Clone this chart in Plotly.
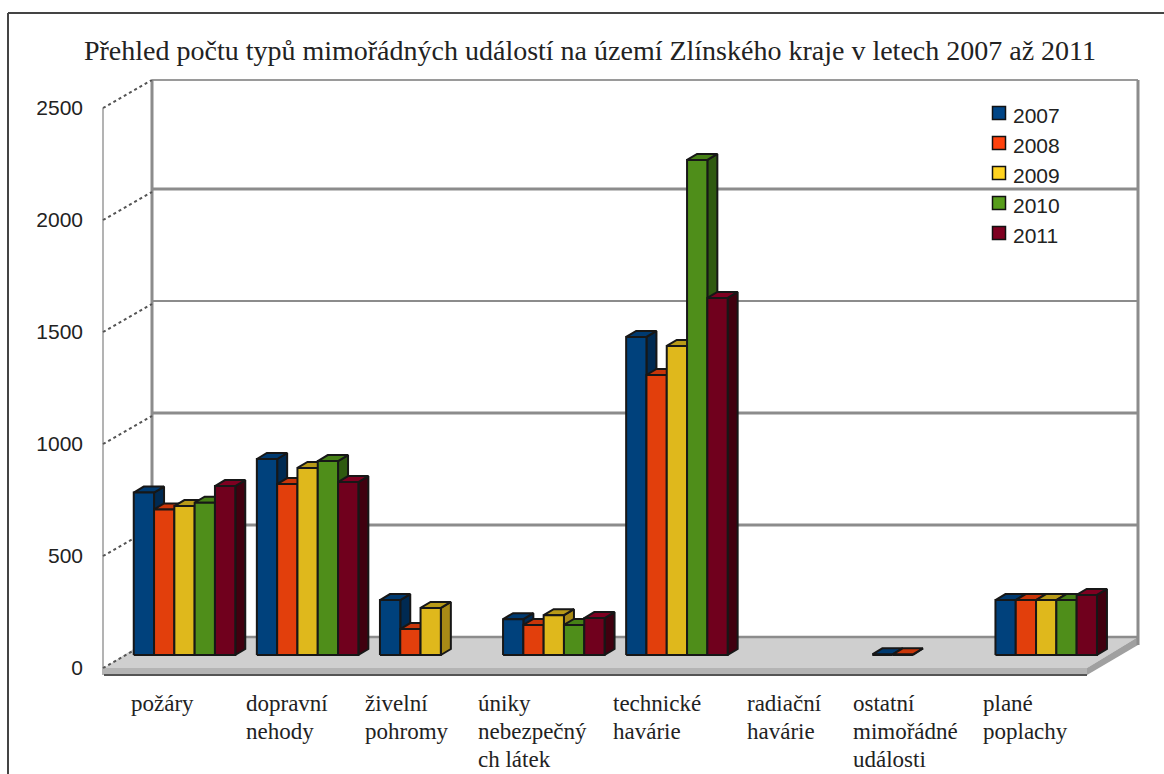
import plotly.graph_objects as go

years = ['2007', '2008', '2009', '2010', '2011']
categories = [
    ['požáry'],
    ['dopravní', 'nehody'],
    ['živelní', 'pohromy'],
    ['úniky', 'nebezpečný', 'ch látek'],
    ['technické', 'havárie'],
    ['radiační', 'havárie'],
    ['ostatní', 'mimořádné', 'události'],
    ['plané', 'poplachy'],
]
v2007 = [725, 875, 245, 160, 1420, None, 3, 245]
v2008 = [650, 763, 116, 134, 1250, None, 3, 245]
v2009 = [665, 835, 210, 178, 1380, None, None, 245]
v2010 = [680, 866, None, 134, 2210, None, None, 245]
v2011 = [754, 772, None, 165, 1594, None, None, 268]
series = [v2007, v2008, v2009, v2010, v2011]
ticks = [0, 500, 1000, 1500, 2000, 2500]

title = 'Přehled počtu typů mimořádných událostí na území Zlínského kraje v letech 2007 až 2011'
label_left = [129, 244, 363, 476, 611, 745, 851, 981]

# barvy: front, bok, vrsek, legenda
front = ['#00417c', '#e23f0c', '#dfb81c', '#4f8e1a', '#70001d']
side = ['#002a52', '#8f2808', '#a88a16', '#2f5a10', '#40000f']
top = ['#003a70', '#c93609', '#b89a18', '#468016', '#7e0021']
legend_col = ['#004586', '#ff420e', '#ffd320', '#579d1c', '#7e0021']

W, H = 1164, 774
PLOT_LEFT = 84
GROUP = 123.1     # px na skupinu
C0 = 184.5        # stred prvni skupiny
Y0 = 655          # px zakladny sloupcu
SCALE = 0.224     # px na jednotku


def to_x(px):
    return (px - C0) / GROUP


def to_y(py):
    return (Y0 - py) / SCALE


bar_w = 20.3 / GROUP
dx = 10 / GROUP
dy = 6 / SCALE

fig = go.Figure()

for k, vals in enumerate(series):
    xf, yf, xs, ys, xt, yt = [], [], [], [], [], []
    for c, v in enumerate(vals):
        if v is None:
            continue
        l = c + (k - 2.5) * bar_w
        r = l + bar_w
        xf += [l, r, r, l, l, None]
        yf += [0, 0, v, v, 0, None]
        xs += [r, r + dx, r + dx, r, r, None]
        ys += [0, dy, v + dy, v, 0, None]
        xt += [l, l + dx, r + dx, r, l, None]
        yt += [v, v + dy, v + dy, v, v, None]
    for xx, yy, col in [(xs, ys, side[k]), (xt, yt, top[k]), (xf, yf, front[k])]:
        fig.add_trace(go.Scatter(x=xx, y=yy, mode='lines', fill='toself', fillcolor=col,
                                 line=dict(color='#171717', width=2),
                                 name=years[k], showlegend=False, hoverinfo='skip'))

# legenda
annotations = []
for k, yr in enumerate(years):
    fig.add_trace(go.Scatter(x=[to_x(999)], y=[to_y(113 + 30 * k)], mode='markers',
                             marker=dict(symbol='square', size=13, color=legend_col[k],
                                         line=dict(color='#111111', width=1.5)),
                             name=yr, showlegend=False, hoverinfo='skip'))
    annotations.append(dict(x=to_x(1011), y=to_y(115 + 30 * k), xref='x', yref='y', text=yr,
                            showarrow=False, xanchor='left', yanchor='middle',
                            font=dict(family='Liberation Sans', size=21, color='#222222')))


def line(x0, y0, x1, y1, color='#8c8c8c', width=2.5, dash='solid'):
    return dict(type='line', xref='x', yref='y', x0=to_x(x0), y0=to_y(y0), x1=to_x(x1), y1=to_y(y1),
                line=dict(color=color, width=width, dash=dash), layer='below')


def poly(points, color):
    path = 'M ' + ' L '.join(f'{to_x(a):.4f},{to_y(b):.2f}' for a, b in points) + ' Z'
    return dict(type='path', xref='x', yref='y', path=path, fillcolor=color, line=dict(width=0), layer='below')


shapes = []
# podlaha
shapes.append(poly([(152, 637), (1138, 637), (1087, 668), (104, 668)], '#cfcfcf'))
shapes.append(poly([(104, 668), (1087, 668), (1087, 675), (104, 675)], '#b4b4b4'))
shapes.append(poly([(1087, 668), (1138, 637), (1138, 645), (1087, 675)], '#a0a0a0'))
shapes.append(line(104, 675, 1087, 675, color='#555555', width=2))
shapes.append(line(152, 637, 1138, 637, color='#8c8c8c', width=2.5))
# steny
shapes.append(line(152, 80, 1138, 80, color='#9a9a9a', width=2))
shapes.append(line(152, 80, 152, 637, width=3))
shapes.append(line(1138, 80, 1138, 645, width=3))
shapes.append(line(103, 108, 103, 675, color='#9a9a9a', width=1.5))
# mrizka od hodnot osy
for t in ticks:
    py = Y0 - t * SCALE
    if 0 < t < 2500:
        shapes.append(line(152, py - 18, 1138, py - 18, width=2 if t == 1500 else 3))
    shapes.append(line(103, py + 13, 152, py - 15, color='#555555', width=2, dash='dot'))

# ramecek
def px_paper(px):
    return (px - PLOT_LEFT) / (W - PLOT_LEFT)


shapes.append(dict(type='line', xref='paper', yref='paper', x0=px_paper(8), x1=px_paper(8), y0=0, y1=1 - 13 / H,
                   line=dict(color='#444444', width=2)))
shapes.append(dict(type='line', xref='paper', yref='paper', x0=px_paper(8), x1=px_paper(W), y0=1 - 13 / H, y1=1 - 13 / H,
                   line=dict(color='#444444', width=2)))

# popisky kategorii
for c, lines in enumerate(categories):
    for n, txt in enumerate(lines):
        annotations.append(dict(x=to_x(label_left[c]), y=to_y(703 + 28 * n), xref='x', yref='y', text=txt,
                                showarrow=False, xanchor='left', yanchor='middle', align='left',
                                font=dict(family='Liberation Serif', size=23, color='#222222')))

fig.update_layout(
    width=W, height=H,
    margin=dict(l=PLOT_LEFT, r=0, t=0, b=0),
    paper_bgcolor='white', plot_bgcolor='white',
    showlegend=False,
    title=dict(text=title, x=590 / W, xanchor='center', y=1 - 50 / H, yanchor='middle',
               font=dict(family='Liberation Serif', size=28, color='#222222')),
    shapes=shapes,
    annotations=annotations,
)
fig.update_xaxes(visible=False, range=[to_x(PLOT_LEFT), to_x(W)])
fig.update_yaxes(range=[to_y(H), to_y(0)], tickvals=ticks, showgrid=False, zeroline=False, showline=False,
                 ticks='', ticklabelshift=13, ticklabelstandoff=0,
                 tickfont=dict(family='Liberation Sans', size=21, color='#222222'))

fig.write_html('out.html', config=dict(displayModeBar=False), post_script="document.body.style.margin='0';")
